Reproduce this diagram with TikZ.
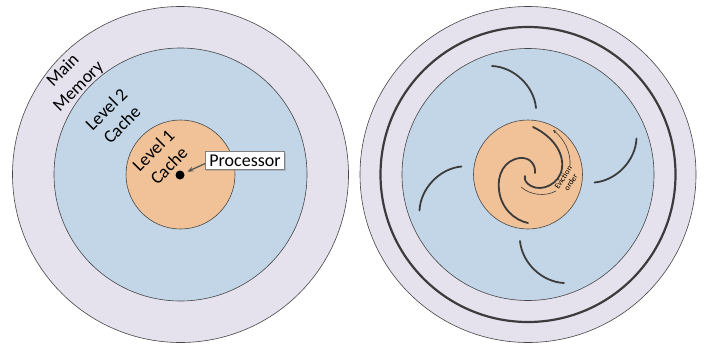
\documentclass[tikz,border=0pt]{standalone}
\usepackage{fontspec}
\setmainfont{Carlito}
\usetikzlibrary{calc}
\usetikzlibrary{arrows.meta}
\usetikzlibrary{shadows}

\definecolor{memcol}{RGB}{229,226,238}
\definecolor{ltwocol}{RGB}{195,214,231}
\definecolor{lonecol}{RGB}{241,194,152}
\definecolor{edgecol}{RGB}{70,70,70}
\definecolor{curvecol}{RGB}{60,60,60}
\definecolor{arrowcol}{RGB}{89,89,89}

\begin{document}
\begin{tikzpicture}[x=1pt,y=-1pt,
  ring/.style={draw=edgecol, line width=0.6pt},
  levellabel/.style={rotate=45, align=center, text=black, font=\fontsize{18}{22}\selectfont},
  swirl/.style={draw=curvecol, line width=1.8pt, line cap=round},
  thinswirl/.style={draw=curvecol, line width=0.6pt, line cap=round}]
\useasboundingbox (0,0) rectangle (711,348);

\coordinate (L) at (180.5,174.5);
\coordinate (R) at (528,174.5);

% left: the hierarchy
\fill[memcol, ring] (L) circle[radius=168pt];
\fill[ltwocol, ring] (L) circle[radius=126.5pt];
\fill[lonecol, ring] (L) circle[radius=54.5pt];

\node[levellabel] (mainmem) at (71,79) {Main\\Memory};
\node[levellabel] (ltwo) at (114,117) {Level 2\\Cache};
\node[levellabel] (lone) at (161,158) {Level 1\\Cache};

\node[circle, fill=black, inner sep=0pt, minimum size=9pt] (cpu) at (180,175) {};
\node[draw=gray, fill=white, inner xsep=4pt, inner ysep=0.5pt, minimum height=18pt,
  text=black, font=\fontsize{18}{22}\selectfont,
  drop shadow={shadow xshift=1pt, shadow yshift=-1pt, opacity=0.35}] (proc) at (245,160.5) {Processor};
\draw[-{Stealth[length=6pt,width=5pt]}, arrowcol, line width=1.3pt, shorten >=3.5pt]
  ($(proc.west)+(0,3)$) -- (cpu);

% right: the swirl
\fill[memcol, ring] (R) circle[radius=168pt];
\draw[curvecol, line width=2.2pt] (R) circle[radius=147.5pt];
\fill[ltwocol, ring] (R) circle[radius=126pt];
\fill[lonecol, ring] (R) circle[radius=54.5pt];

\foreach \a in {0,-90,-180,-270}
{
\begin{scope}[rotate around={\a:(528,174.5)}]
\draw[swirl] (492,66) .. controls (514,67) and (534,86) .. (536,108);
\end{scope}
}

\draw[swirl] (533,127) .. controls (552,136) and (564,152) .. (562,168)
  .. controls (560,184) and (542,192) .. (531,186) .. controls (526,183) and (524,180) .. (525,176);
\draw[swirl] (535,173) .. controls (536,165) and (530,157) .. (520,158)
  .. controls (504,160) and (497,175) .. (499,190) .. controls (501,208) and (514,220) .. (528,223);

\draw[thinswirl, -{Stealth[length=3.5pt,width=3pt]}] (570,166) .. controls (571,152) and (564,139) .. (553,130);
\draw[thinswirl] (556,191) .. controls (545,197) and (530,195) .. (521,187);
\node[rotate=57, align=center, text=black, font=\fontsize{8}{9}\selectfont, inner sep=0pt] (evict) at (567,180) {Eviction\\order};

\end{tikzpicture}
\end{document}
